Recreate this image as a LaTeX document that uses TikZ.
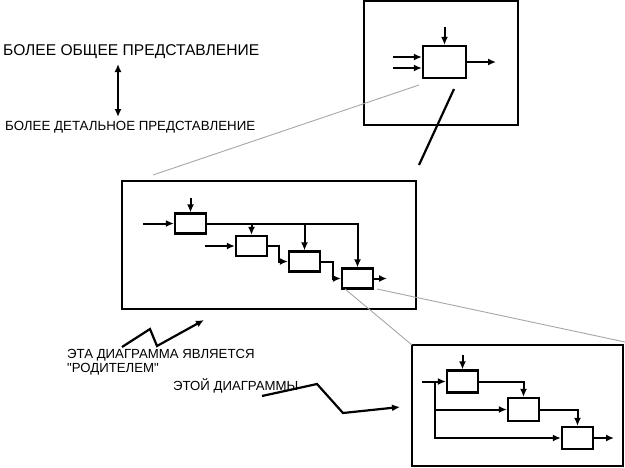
\documentclass[tikz,border=0pt]{standalone}
\usepackage{fontspec}
\setmainfont{Liberation Sans}
\newfontfamily\plainfont{Liberation Sans} % keeps straight quotes
\usetikzlibrary{positioning, arrows.meta}
\tikzset{
>={Latex[length=8pt,width=7pt]}, % filled arrow heads
x=1pt, y=-1pt, % work in pixels of the reference
block/.style={draw, line width=2.2pt, minimum width=31pt, minimum height=20pt, inner sep=0pt}, % one function box
frame/.style={draw, line width=2.3pt}, % diagram frame
flow/.style={->, line width=2pt}, % arrows between boxes
zoomline/.style={gray!70, line width=0.9pt}, % thin gray projection lines
label/.style={anchor=west, inner sep=0pt}, % texts
}
\begin{document}
\begin{tikzpicture}
    \useasboundingbox (0,0) rectangle (625,467);

    % frames
    \draw[frame] (364,1) rectangle (518,125);
    \draw[frame] (122,181) rectangle (416,309);
    \draw[frame] (412,345) rectangle (623,466);

    % top diagram
    \node[block, minimum width=43pt, minimum height=32pt] (A) at (444.5,62) {};
    \coordinate (Atop) at (444.5,27);
    \coordinate (Ain1) at (393,57);
    \coordinate (Ain2) at (393,68);
    \coordinate (Aout) at (496,62);
    \draw[flow] (Atop) -- (A.north);
    \draw[flow] (Ain1) -- (Ain1 -| A.west);
    \draw[flow] (Ain2) -- (Ain2 -| A.west);
    \draw[flow] (A.east) -- (Aout);

    % middle diagram
    \node[block] (B1) at (190.5,223.5) {};
    \node[block] (B2) at (251.5,246) {};
    \node[block] (B3) at (304.5,261.5) {};
    \node[block] (B4) at (357.5,278.5) {};
    \coordinate (B1top) at (190.5,198);
    \coordinate (B1in) at (143,223.5);
    \coordinate (B2in) at (205,246);
    \coordinate (B4out) at (387,278.5);
    \draw[flow] (B1top) -- (B1.north);
    \draw[flow] (B1in) -- (B1.west);
    \draw[flow] (B2in) -- (B2.west);
    \draw[flow] (B1.east) -| (B4.north);
    \draw[flow] (B2.north |- B1.east) -- (B2.north);
    \draw[flow] (B3.north |- B1.east) -- (B3.north);
    \draw[flow] (B2.east) -- ++(11,0) |- (B3.west);
    \draw[flow] (B3.east) -- ++(12,0) |- (B4.west);
    \draw[flow] (B4.east) -- (B4out);

    % bottom diagram
    \node[block, minimum height=22pt] (C1) at (462.5,381.5) {};
    \node[block, minimum height=23pt] (C2) at (523.5,409.5) {};
    \node[block, minimum height=22pt] (C3) at (577.5,438) {};
    \coordinate (C1top) at (462.5,355);
    \coordinate (Cin) at (422,381.5);
    \coordinate (split) at (435,381.5);
    \coordinate (Cout) at (614,438);
    \draw[flow] (C1top) -- (C1.north);
    \draw[flow] (Cin) -- (C1.west);
    \draw[flow] (split) |- (C3.west);
    \draw[flow] (split |- C2.west) -- (C2.west);
    \draw[flow] (C1.east) -| (C2.north);
    \draw[flow] (C2.east) -| (C3.north);
    \draw[flow] (C3.east) -- (Cout);

    % projection lines
    \coordinate (p1) at (419,85);
    \coordinate (p2) at (153,175);
    \coordinate (p3) at (377,289);
    \coordinate (p4) at (625,342);
    \coordinate (p5) at (345,289);
    \coordinate (p6) at (412,345);
    \coordinate (q1) at (454,89);
    \coordinate (q2) at (419,165);
    \draw[zoomline] (p1) -- (p2);
    \draw[zoomline] (p3) -- (p4);
    \draw[zoomline] (p5) -- (p6);
    \draw[line width=2.2pt] (q1) -- (q2);

    % texts
    \node[label, font=\fontsize{15.6}{15.6}\selectfont] (general) at (3,52) {БОЛЕЕ ОБЩЕЕ ПРЕДСТАВЛЕНИЕ};
    \node[label, font=\fontsize{13.3}{13.3}\selectfont] (detail) at (5,127) {БОЛЕЕ ДЕТАЛЬНОЕ ПРЕДСТАВЛЕНИЕ};
    \coordinate (up) at (118,64);
    \coordinate (down) at (118,117);
    \draw[<->, line width=2.2pt] (up) -- (down);

    \node[label, font=\fontsize{13.2}{13.2}\selectfont] (parent1) at (67,355) {ЭТА ДИАГРАММА ЯВЛЯЕТСЯ};
    \node[label, font=\plainfont\fontsize{13.2}{13.2}\selectfont] (parent2) at (67,369) {"РОДИТЕЛЕМ"};
    \node[label, font=\fontsize{13.2}{13.2}\selectfont] (child) at (173,386) {ЭТОЙ ДИАГРАММЫ};

    % zigzag pointers
    \coordinate (z1) at (122,347);
    \coordinate (z2) at (150,329);
    \coordinate (z3) at (157,346);
    \coordinate (z4) at (204,320);
    \draw[->, line width=2.2pt] (z1) -- (z2) -- (z3) -- (z4);
    \coordinate (w1) at (262,396);
    \coordinate (w2) at (317,384);
    \coordinate (w3) at (343,413);
    \coordinate (w4) at (400,407);
    \draw[->, line width=2.2pt] (w1) -- (w2) -- (w3) -- (w4);

\end{tikzpicture}
\end{document}
